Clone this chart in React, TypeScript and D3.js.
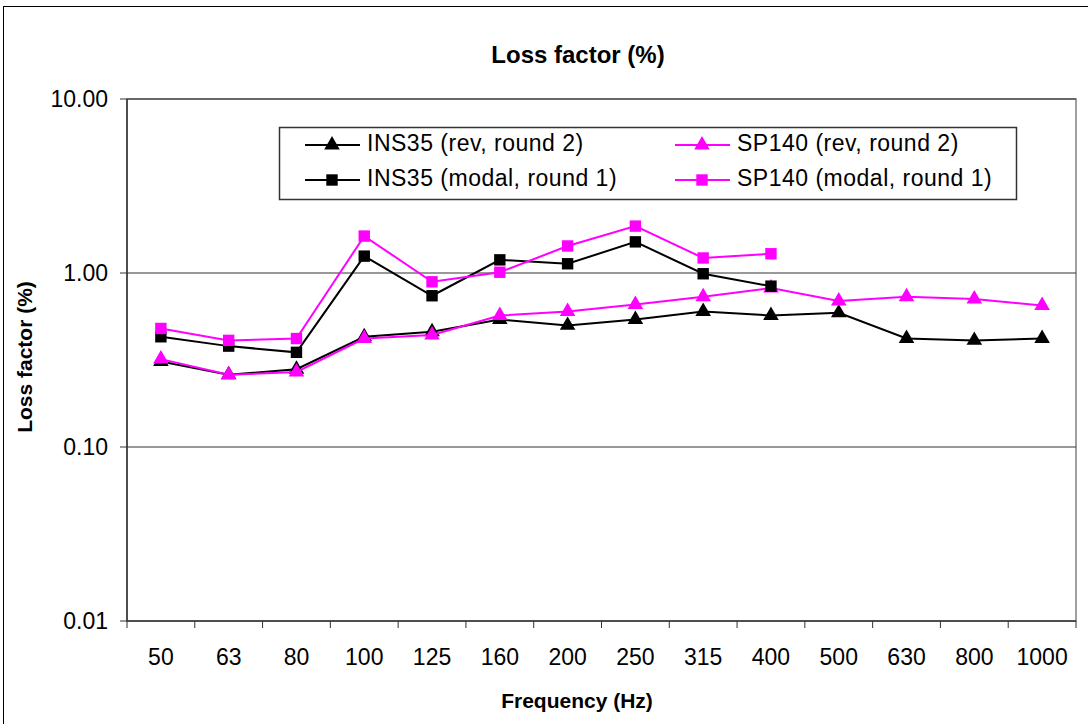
import * as d3 from 'd3'
import { useEffect, useRef } from 'react'

// frequency bands (Hz)
const categories = ['50', '63', '80', '100', '125', '160', '200', '250', '315', '400', '500', '630', '800', '1000']

// loss factor (%), null = no value
const ins35Rev = [0.31, 0.26, 0.28, 0.43, 0.46, 0.54, 0.50, 0.54, 0.60, 0.57, 0.59, 0.42, 0.41, 0.42]
const sp140Rev = [0.32, 0.26, 0.27, 0.42, 0.44, 0.57, 0.60, 0.66, 0.73, 0.82, 0.69, 0.73, 0.71, 0.65]
const ins35Modal = [0.43, 0.38, 0.35, 1.25, 0.74, 1.19, 1.13, 1.51, 0.99, 0.84, null, null, null, null]
const sp140Modal = [0.48, 0.41, 0.42, 1.63, 0.89, 1.01, 1.43, 1.86, 1.22, 1.29, null, null, null, null]

const yTicks = [10, 1, 0.1, 0.01]

const series = [
    { name: 'INS35 (rev, round 2)', values: ins35Rev, color: '#000000', marker: 'triangle' },
    { name: 'SP140 (rev, round 2)', values: sp140Rev, color: '#FF00FF', marker: 'triangle' },
    { name: 'INS35 (modal, round 1)', values: ins35Modal, color: '#000000', marker: 'square' },
    { name: 'SP140 (modal, round 1)', values: sp140Modal, color: '#FF00FF', marker: 'square' },
]

const FONT = '"Liberation Sans", Arial, sans-serif'

export default function App() {
    const svgRef = useRef<SVGSVGElement>(null)
    const width = 1088
    const height = 724

    useEffect(() => {
        const svg = d3.select(svgRef.current)
        svg.selectAll('*').remove()

        const left = 127, right = 1076, top = 99, bottom = 621

        const x = d3.scaleBand().domain(categories).range([left, right]).paddingInner(0).paddingOuter(0)
        const y = d3.scaleLog().domain([0.01, 10]).range([bottom, top])

        const triangle = d3.symbol().type(d3.symbolTriangle).size(105)
        const square = d3.symbol().type(d3.symbolSquare).size(130)

        // outer chart frame
        svg.append('rect')
            .attr('x', 3.5).attr('y', 6.5)
            .attr('width', 1200).attr('height', 800)
            .attr('fill', '#fff').attr('stroke', '#000').attr('stroke-width', 1)

        // title
        svg.append('text')
            .attr('x', 578).attr('y', 63)
            .attr('text-anchor', 'middle')
            .attr('font-family', FONT).attr('font-weight', 'bold').attr('font-size', 24)
            .text('Loss factor (%)')

        // plot area border
        svg.append('rect')
            .attr('x', left).attr('y', top)
            .attr('width', right - left).attr('height', bottom - top)
            .attr('fill', 'none').attr('stroke', '#808080').attr('stroke-width', 1.5)

        // gridlines
        svg.append('g')
            .selectAll('line')
            .data(yTicks.filter(d => d > 0.01))
            .join('line')
            .attr('x1', left).attr('x2', right)
            .attr('y1', d => y(d)).attr('y2', d => y(d))
            .attr('stroke', '#333').attr('stroke-width', 1)

        // y axis
        const yAxis = svg.append('g')
        yAxis.append('line')
            .attr('x1', left).attr('x2', left).attr('y1', top).attr('y2', bottom)
            .attr('stroke', '#333').attr('stroke-width', 1.5)
        yAxis.selectAll('line.tick')
            .data(yTicks)
            .join('line')
            .attr('class', 'tick')
            .attr('x1', left - 7).attr('x2', left)
            .attr('y1', d => y(d)).attr('y2', d => y(d))
            .attr('stroke', '#333')
        yAxis.selectAll('text')
            .data(yTicks)
            .join('text')
            .attr('x', 108).attr('y', d => y(d))
            .attr('dy', '0.35em')
            .attr('text-anchor', 'end')
            .attr('font-family', FONT).attr('font-size', 23)
            .text(d => d.toFixed(2))

        // x axis
        const xAxis = svg.append('g')
        xAxis.append('line')
            .attr('x1', left).attr('x2', right).attr('y1', bottom).attr('y2', bottom)
            .attr('stroke', '#333').attr('stroke-width', 1.5)
        const bounds = categories.map(c => x(c) as number).concat([right])
        xAxis.selectAll('line.tick')
            .data(bounds)
            .join('line')
            .attr('class', 'tick')
            .attr('x1', d => d).attr('x2', d => d)
            .attr('y1', bottom).attr('y2', bottom + 7)
            .attr('stroke', '#333')
        xAxis.selectAll('text')
            .data(categories)
            .join('text')
            .attr('x', d => (x(d) as number) + x.bandwidth() / 2)
            .attr('y', 665)
            .attr('text-anchor', 'middle')
            .attr('font-family', FONT).attr('font-size', 23)
            .text(d => d)

        // axis titles
        svg.append('text')
            .attr('x', 577).attr('y', 708)
            .attr('text-anchor', 'middle')
            .attr('font-family', FONT).attr('font-weight', 'bold').attr('font-size', 21)
            .text('Frequency (Hz)')
        svg.append('text')
            .attr('transform', 'translate(32,357) rotate(-90)')
            .attr('text-anchor', 'middle')
            .attr('font-family', FONT).attr('font-weight', 'bold').attr('font-size', 21)
            .text('Loss factor (%)')

        // series
        const cx = (i: number) => (x(categories[i]) as number) + x.bandwidth() / 2
        const line = d3.line<number | null>()
            .defined(d => d !== null)
            .x((_, i) => cx(i))
            .y(d => y(d as number))

        const g = svg.append('g')
        series.forEach(s => {
            g.append('path')
                .datum(s.values)
                .attr('d', line)
                .attr('fill', 'none')
                .attr('stroke', s.color)
                .attr('stroke-width', 2)
            g.selectAll(null)
                .data(s.values.map((v, i) => ({ v, i })).filter(d => d.v !== null))
                .join('path')
                .attr('transform', d => `translate(${cx(d.i)},${y(d.v as number)})`)
                .attr('d', s.marker === 'triangle' ? triangle() : square())
                .attr('fill', s.color)
        })

        // legend
        const legend = svg.append('g')
        legend.append('rect')
            .attr('x', 279.5).attr('y', 127.5)
            .attr('width', 737).attr('height', 72)
            .attr('fill', '#fff').attr('stroke', '#333').attr('stroke-width', 1.5)
        series.forEach((s, k) => {
            const col = k % 2
            const row = Math.floor(k / 2)
            const lx = 305 + col * 370
            const ly = 145 + row * 35
            legend.append('line')
                .attr('x1', lx).attr('x2', lx + 55).attr('y1', ly).attr('y2', ly)
                .attr('stroke', s.color).attr('stroke-width', 2)
            legend.append('path')
                .attr('transform', `translate(${lx + 27},${ly})`)
                .attr('d', s.marker === 'triangle' ? triangle() : square())
                .attr('fill', s.color)
            legend.append('text')
                .attr('x', lx + 62).attr('y', ly + 6)
                .attr('font-family', FONT).attr('font-size', 23)
                .attr('letter-spacing', 0.5)
                .text(s.name)
        })
    }, [])

    return (
        <svg ref={svgRef} width={width} height={height}
            style={{ position: 'absolute', left: 0, top: 0, background: '#fff' }}></svg>
    )
}
